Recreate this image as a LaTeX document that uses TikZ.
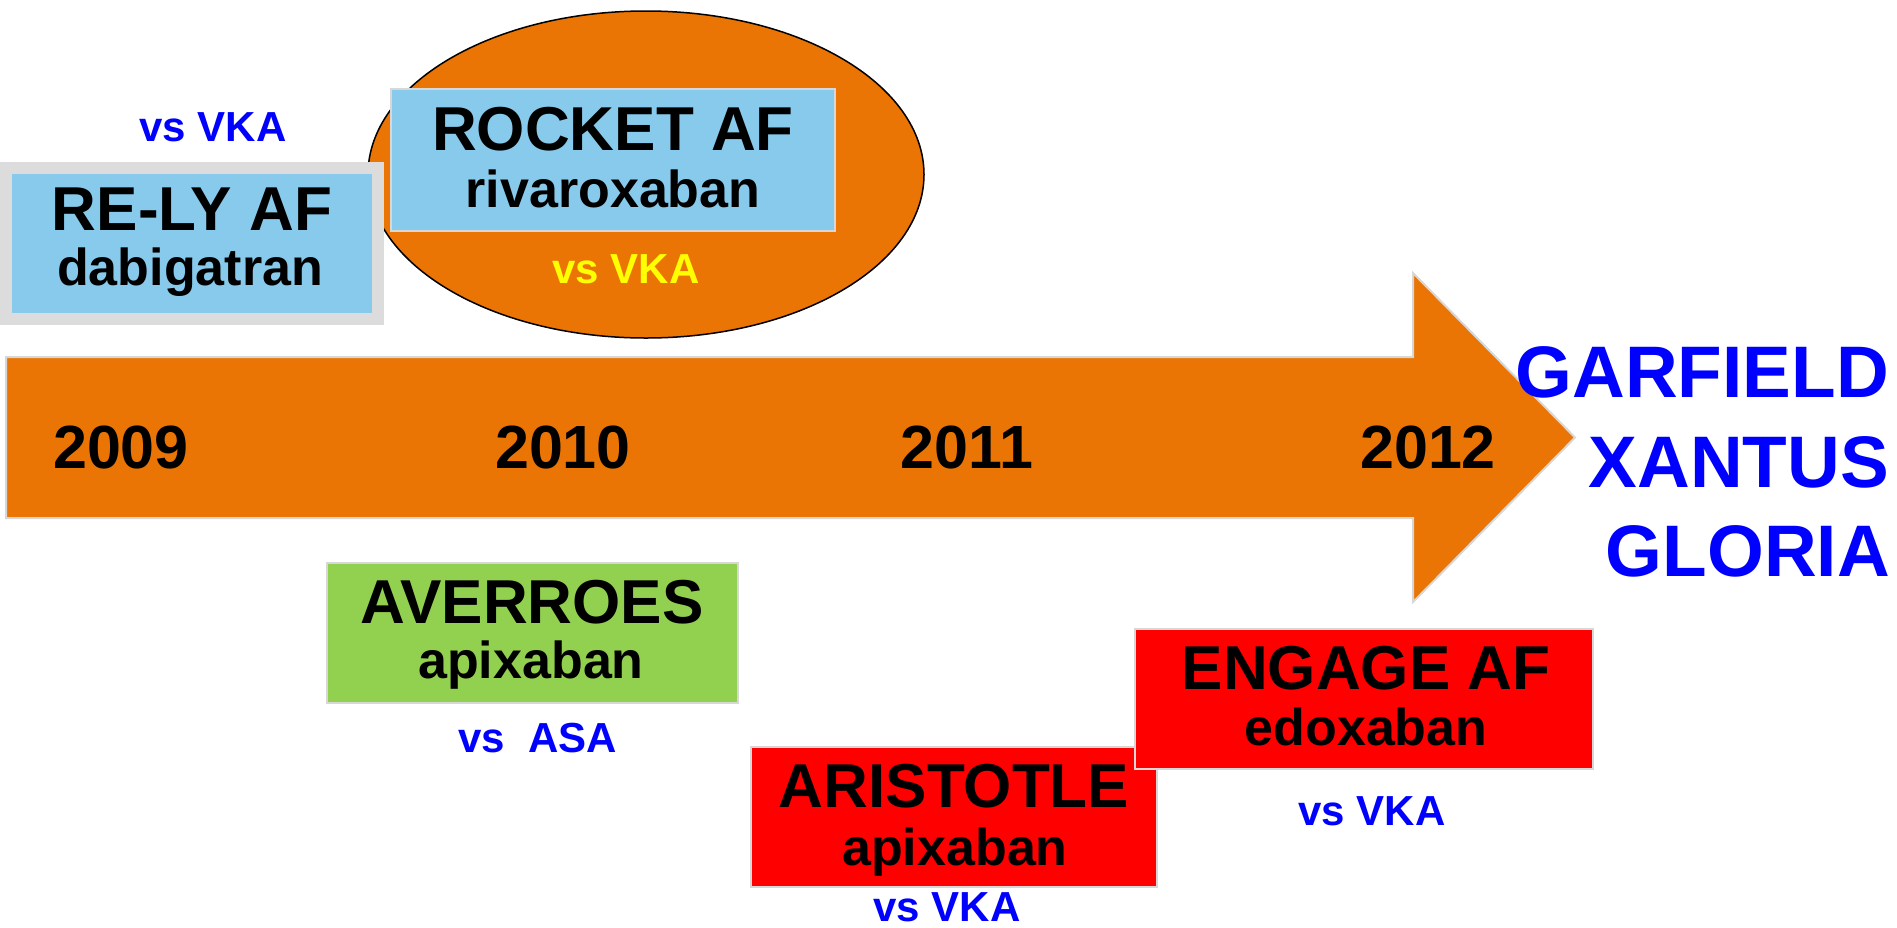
\documentclass[tikz,border=0pt]{standalone}
\usepackage{fontspec}
\usetikzlibrary{shapes.geometric}
\setmainfont{Liberation Sans}
\definecolor{arroworange}{RGB}{234,116,4}
\definecolor{skyblue}{RGB}{135,202,235}
\definecolor{framegray}{RGB}{220,220,220}
\definecolor{edgegray}{RGB}{215,215,215}
\definecolor{limegreen}{RGB}{146,208,80}
\definecolor{pureblue}{RGB}{0,0,255}
\definecolor{purered}{RGB}{255,0,0}
\definecolor{pureyellow}{RGB}{255,255,0}
\tikzset{
  boxbase/.style={rectangle, inner sep=0pt, draw=edgegray, line width=2pt},
  bluebox/.style={boxbase, fill=skyblue},
  greenbox/.style={boxbase, fill=limegreen},
  redbox/.style={boxbase, fill=purered},
  title/.style={anchor=base, inner sep=0pt, font=\fontsize{62}{62}\selectfont\bfseries},
  drug/.style={anchor=base, inner sep=0pt, font=\fontsize{52}{52}\selectfont\bfseries},
  vs/.style={anchor=base, inner sep=0pt, text=pureblue, font=\fontsize{42}{42}\selectfont\bfseries},
  year/.style={anchor=base, inner sep=0pt, font=\fontsize{61}{61}\selectfont\bfseries},
  trial/.style={anchor=base east, inner sep=0pt, text=pureblue, font=\fontsize{73}{73}\selectfont\bfseries},
}
\begin{document}
\begin{tikzpicture}[x=1pt,y=-1pt]
\useasboundingbox (0,0) rectangle (1897,927);
% timeline arrow
\draw[fill=arroworange, draw=edgegray, line width=2pt, line join=miter]
  (6,357) -- (1413,357) -- (1413,273) -- (1575,437.5) -- (1413,602) -- (1413,518) -- (6,518) -- cycle;
% years
\node[year] (y2009) at (121,468) {2009};
\node[year] (y2010) at (563,468) {2010};
\node[year] (y2011) at (967,468) {2011};
\node[year] (y2012) at (1428,468) {2012};
% ROCKET AF ellipse
\node[ellipse, draw=black, line width=1.5pt, fill=arroworange, minimum width=556pt, minimum height=327pt, inner sep=0pt] (rocketell) at (646,174.5) {};
\node[bluebox, minimum width=444pt, minimum height=142pt] (rocketbox) at (613,160) {};
\node[title] (rocket) at (613,150) {ROCKET AF};
\node[drug] (riva) at (613,207) {rivaroxaban};
\node[vs, text=pureyellow] (rocketvs) at (626,283) {vs VKA};
% RE-LY AF
\node[rectangle, inner sep=0pt, fill=skyblue, draw=framegray, line width=12pt, minimum width=371.5pt, minimum height=151pt] (relybox) at (191.75,243.5) {};
\node[vs] (relyvs) at (213,141) {vs VKA};
\node[title] (rely) at (192,230) {RE-LY AF};
\node[drug] (dabi) at (190,285) {dabigatran};
% AVERROES
\node[greenbox, minimum width=411pt, minimum height=140pt] (avbox) at (532.5,633) {};
\node[title] (av) at (532,623) {AVERROES};
\node[drug] (avapix) at (531,678) {apixaban};
\node[vs] (avvs) at (538,752) {vs\ \ ASA};
% ARISTOTLE
\node[redbox, minimum width=406pt, minimum height=140pt] (aribox) at (954,817) {};
\node[title] (ari) at (954,807) {ARISTOTLE};
\node[drug] (ariapix) at (955,865) {apixaban};
\node[vs] (arivs) at (947,921) {vs VKA};
% ENGAGE AF
\node[redbox, minimum width=458pt, minimum height=140pt] (engbox) at (1364,699) {};
\node[title] (eng) at (1366,689) {ENGAGE AF};
\node[drug] (edox) at (1366,745) {edoxaban};
\node[vs] (engvs) at (1372,825) {vs VKA};
% upcoming trials
\node[trial] (garfield) at (1889,397) {GARFIELD};
\node[trial] (xantus) at (1889,487) {XANTUS};
\node[trial] (gloria) at (1890,576) {GLORIA};
\end{tikzpicture}
\end{document}
